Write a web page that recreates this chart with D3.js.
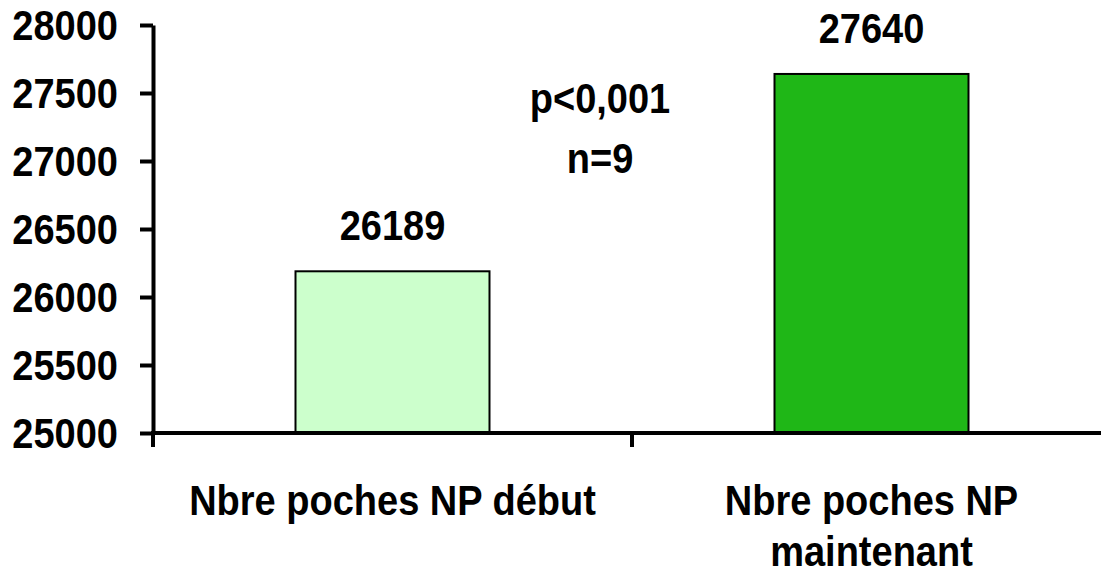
<!DOCTYPE html>
<html>
<head>
<meta charset="utf-8">
<script src="https://cdn.jsdelivr.net/npm/d3@7"></script>
<style>
  body { margin: 0; background: #fff; }
  svg { display: block; font-family: "Liberation Sans", Arial, sans-serif; font-weight: bold; }
</style>
</head>
<body>
<svg id="chart" width="1101" height="576"></svg>
<script>
// Data
const categories = ["Nbre poches NP début", "Nbre poches NP maintenant"];
const categoryLines = [["Nbre poches NP début"], ["Nbre poches NP", "maintenant"]];
const values = [26189, 27640];
const barColors = ["#ccffcc", "#1fb717"];
const yTicks = [25000, 25500, 26000, 26500, 27000, 27500, 28000];
const annotations = ["p<0,001", "n=9"];

const svg = d3.select("#chart");

const plotLeft = 153, plotRight = 1111, plotTop = 25, plotBottom = 433;
const fontSize = 38, stretch = 1.13;

// text is a bit taller than Arial in the original, so stretch it vertically
function addText(g, x, y, str, anchor) {
  return g.append("text")
    .attr("transform", `translate(${x},${y}) scale(1,${stretch})`)
    .attr("text-anchor", anchor || "middle")
    .attr("font-size", fontSize)
    .attr("fill", "#000")
    .text(str);
}

// Scales
const y = d3.scaleLinear().domain([25000, 28000]).range([plotBottom, plotTop]);
const x = d3.scaleBand().domain(categories).range([plotLeft, plotRight]).padding(0);
const barWidth = x.bandwidth() * 0.405;

// Bars
svg.selectAll("rect.bar")
  .data(values)
  .enter()
  .append("rect")
  .attr("class", "bar")
  .attr("x", (d, i) => x(categories[i]) + (x.bandwidth() - barWidth) / 2)
  .attr("y", d => y(d))
  .attr("width", barWidth)
  .attr("height", d => y(25000) - y(d))
  .attr("fill", (d, i) => barColors[i])
  .attr("stroke", "#000")
  .attr("stroke-width", 2);

// Y axis
const yAxis = d3.axisLeft(y).tickValues(yTicks).tickSize(13).tickSizeOuter(0).tickFormat("");
const gy = svg.append("g")
  .attr("transform", `translate(${plotLeft},0)`)
  .call(yAxis);
gy.select(".domain").attr("stroke", "#000").attr("stroke-width", 4);
gy.selectAll(".tick line").attr("stroke", "#000").attr("stroke-width", 4);
yTicks.forEach(t => addText(svg, 118, y(t) + 15, d3.format("d")(t), "end"));

// X axis (line + ticks at category boundaries)
svg.append("line")
  .attr("x1", plotLeft - 2).attr("x2", plotRight)
  .attr("y1", y(25000)).attr("y2", y(25000))
  .attr("stroke", "#000").attr("stroke-width", 4);

svg.selectAll("line.xtick")
  .data(categories)
  .enter()
  .append("line")
  .attr("class", "xtick")
  .attr("x1", d => x(d)).attr("x2", d => x(d))
  .attr("y1", y(25000)).attr("y2", y(25000) + 14)
  .attr("stroke", "#000").attr("stroke-width", 4);

// Category labels
categoryLines.forEach((lines, i) => {
  lines.forEach((l, j) => addText(svg, x(categories[i]) + x.bandwidth() / 2, 515 + j * 51, l));
});

// Value labels
values.forEach((v, i) => addText(svg, x(categories[i]) + x.bandwidth() / 2, y(v) - 31, v));

// Significance annotation
annotations.forEach((a, i) => addText(svg, 600, 113 + i * 60, a));
</script>
</body>
</html>
